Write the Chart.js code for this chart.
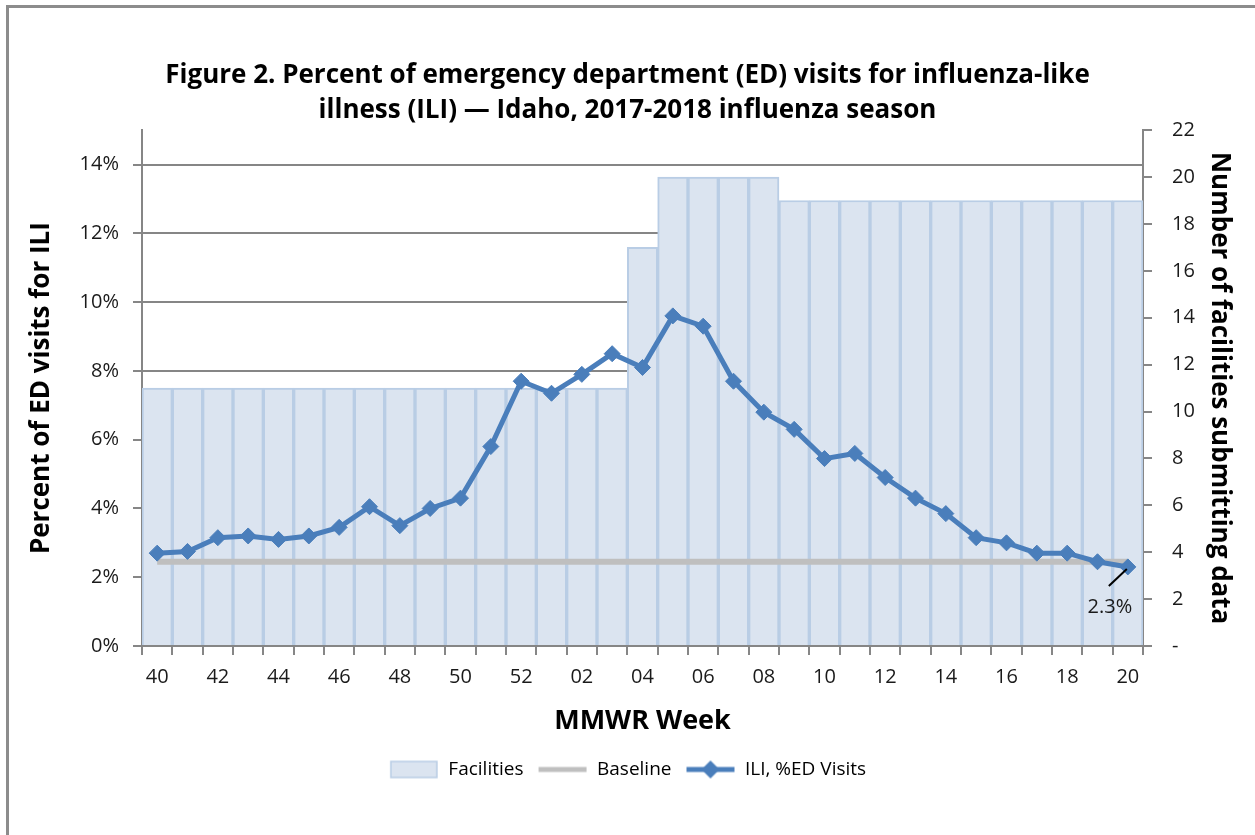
<!DOCTYPE html>
<html>
<head>
<meta charset="utf-8">
<script src="https://cdn.jsdelivr.net/npm/chart.js@4.4.0/dist/chart.umd.min.js"></script>
<style>
  body { margin: 0; background: #fff; }
  #wrap { position: relative; width: 1255px; height: 835px; }
  canvas { position: absolute; left: 0; top: 0; }
</style>
</head>
<body>
<div id="wrap"><canvas id="ili" width="1255" height="835"></canvas></div>
<script>
// MMWR weeks, 2017-2018 season
var weeks = ['40','41','42','43','44','45','46','47','48','49','50','51','52',
             '01','02','03','04','05','06','07','08','09','10','11','12','13','14','15','16','17','18','19','20'];
// number of facilities submitting data
var facilities = [11,11,11,11,11,11,11,11,11,11,11,11,11,
                  11,11,11,17,20,20,20,20,19,19,19,19,19,19,19,19,19,19,19,19];
// ILI, % of ED visits
var iliPct = [2.7,2.75,3.15,3.2,3.1,3.2,3.45,4.05,3.5,4.0,4.3,5.8,7.7,
              7.35,7.9,8.5,8.1,9.6,9.3,7.7,6.8,6.3,5.45,5.6,4.9,4.3,3.85,3.15,3.0,2.7,2.7,2.45,2.3];
// baseline
var baseline = [2.45,2.45,2.45,2.45,2.45,2.45,2.45,2.45,2.45,2.45,2.45,2.45,2.45,
                2.45,2.45,2.45,2.45,2.45,2.45,2.45,2.45,2.45,2.45,2.45,2.45,2.45,2.45,2.45,2.45,2.45,2.45,2.45,2.45];
var leftTicks = [0,2,4,6,8,10,12,14];
var rightTicks = [0,2,4,6,8,10,12,14,16,18,20,22];

var barFill = '#dbe4f0';
var barEdge = '#b9cde5';
var lineBlue = '#4a7ebb';
var baseGray = '#bfbfbf';
var axisGray = '#868686';
var txt = '#1a1a1a';
var fontFam = "'Open Sans', 'Noto Sans', sans-serif";

// legend symbols
function legendSym(kind) {
    var c = document.createElement('canvas');
    c.width = 50; c.height = 20;
    var g = c.getContext('2d');
    if (kind === 'bar') {
        g.fillStyle = barFill; g.fillRect(2, 2, 46, 16);
        g.strokeStyle = barEdge; g.lineWidth = 1.5; g.strokeRect(2, 2, 46, 16);
    } else if (kind === 'base') {
        g.strokeStyle = baseGray; g.lineWidth = 5;
        g.beginPath(); g.moveTo(1, 10); g.lineTo(49, 10); g.stroke();
    } else {
        g.strokeStyle = lineBlue; g.lineWidth = 5;
        g.beginPath(); g.moveTo(1, 10); g.lineTo(49, 10); g.stroke();
        g.fillStyle = lineBlue;
        g.beginPath(); g.moveTo(25, 1); g.lineTo(34, 10); g.lineTo(25, 19); g.lineTo(16, 10); g.closePath(); g.fill();
    }
    return c;
}

var frame = {
    id: 'frame',
    beforeDraw: function (chart) {
        var ctx = chart.ctx;
        ctx.save();
        ctx.fillStyle = '#fff';
        ctx.fillRect(0, 0, chart.width, chart.height);
        ctx.strokeStyle = '#8c8c8c';
        ctx.lineWidth = 3;
        ctx.beginPath();
        ctx.moveTo(7.5, chart.height);
        ctx.lineTo(7.5, 6.5);
        ctx.lineTo(chart.width, 6.5);
        ctx.stroke();
        ctx.restore();
    }
};

// label on last ILI point
var lastLabel = {
    id: 'lastLabel',
    afterDatasetsDraw: function (chart) {
        var meta = chart.getDatasetMeta(2);
        var i = iliPct.length - 1;
        var pt = meta.data[i];
        var ctx = chart.ctx;
        ctx.save();
        ctx.strokeStyle = '#000';
        ctx.lineWidth = 2;
        ctx.beginPath();
        ctx.moveTo(pt.x - 1, pt.y + 2);
        ctx.lineTo(pt.x - 19, pt.y + 19);
        ctx.stroke();
        ctx.fillStyle = txt;
        ctx.font = '20px ' + fontFam;
        ctx.textAlign = 'center';
        ctx.textBaseline = 'middle';
        ctx.fillText(iliPct[i].toFixed(1) + '%', pt.x - 18, pt.y + 40);
        ctx.restore();
    }
};

new Chart(document.getElementById('ili'), {
    data: {
        labels: weeks,
        datasets: [
            {
                type: 'bar',
                label: 'Facilities',
                data: facilities,
                yAxisID: 'y2',
                backgroundColor: barFill,
                borderColor: barEdge,
                borderWidth: 2,
                barPercentage: 1,
                categoryPercentage: 1,
                order: 3
            },
            {
                type: 'line',
                label: 'Baseline',
                data: baseline,
                yAxisID: 'y',
                borderColor: baseGray,
                borderWidth: 6,
                pointRadius: 0,
                order: 2
            },
            {
                type: 'line',
                label: 'ILI, %ED Visits',
                data: iliPct,
                yAxisID: 'y',
                borderColor: lineBlue,
                backgroundColor: lineBlue,
                borderWidth: 5,
                pointStyle: 'rectRot',
                pointRadius: 8,
                pointBorderWidth: 1,
                order: 1
            }
        ]
    },
    options: {
        responsive: false,
        animation: false,
        layout: { padding: { top: 58, left: 20, right: 20, bottom: 46 } },
        plugins: {
            tooltip: { enabled: false },
            title: {
                display: true,
                text: ['Figure 2. Percent of emergency department (ED) visits for influenza-like',
                       'illness (ILI) \u2014 Idaho, 2017-2018 influenza season'],
                color: '#000',
                font: { family: fontFam, size: 26, weight: 'bold', lineHeight: 1.35 },
                padding: { top: 0, bottom: 2 }
            },
            legend: {
                position: 'bottom',
                labels: {
                    usePointStyle: true,
                    pointStyleWidth: 50,
                    boxHeight: 18,
                    padding: 14,
                    color: txt,
                    font: { family: fontFam, size: 19 },
                    generateLabels: function () {
                        return [
                            { text: 'Facilities', pointStyle: legendSym('bar'), fillStyle: barFill, strokeStyle: barEdge, lineWidth: 0, hidden: false, datasetIndex: 0 },
                            { text: 'Baseline', pointStyle: legendSym('base'), fillStyle: baseGray, strokeStyle: baseGray, lineWidth: 0, hidden: false, datasetIndex: 1 },
                            { text: 'ILI, %ED Visits', pointStyle: legendSym('ili'), fillStyle: lineBlue, strokeStyle: lineBlue, lineWidth: 0, hidden: false, datasetIndex: 2 }
                        ];
                    }
                }
            }
        },
        scales: {
            x: {
                offset: true,
                grid: { offset: true, drawOnChartArea: false, color: axisGray, lineWidth: 2, tickLength: 9 },
                border: { color: axisGray, width: 2 },
                ticks: {
                    autoSkip: false,
                    maxRotation: 0,
                    padding: 10,
                    color: txt,
                    font: { family: fontFam, size: 20 },
                    callback: function (v, i) { return i % 2 === 0 ? weeks[i] : ''; }
                },
                title: {
                    display: true, text: 'MMWR Week', color: '#000',
                    font: { family: fontFam, size: 27, weight: 'bold' },
                    padding: { top: 0, bottom: 8 }
                },
                afterFit: function (s) { s.height = 100; }
            },
            y: {
                position: 'left',
                min: 0,
                max: 15,
                afterBuildTicks: function (s) { s.ticks = leftTicks.map(function (v) { return { value: v }; }); },
                grid: { color: axisGray, lineWidth: 2, tickLength: 9 },
                border: { color: axisGray, width: 2 },
                ticks: {
                    padding: 14,
                    color: txt,
                    font: { family: fontFam, size: 20 },
                    callback: function (v) { return v + '%'; }
                },
                title: {
                    display: true, text: 'Percent of ED visits for ILI', color: '#000',
                    font: { family: fontFam, size: 26, weight: 'bold' },
                    padding: { top: 6, bottom: 0 }
                },
                afterFit: function (s) { s.width = 122; }
            },
            y2: {
                position: 'right',
                min: 0,
                max: 22,
                afterBuildTicks: function (s) { s.ticks = rightTicks.map(function (v) { return { value: v }; }); },
                grid: { drawOnChartArea: false, color: axisGray, lineWidth: 2, tickLength: 9 },
                border: { color: axisGray, width: 2 },
                ticks: {
                    padding: 20,
                    color: txt,
                    font: { family: fontFam, size: 20 },
                    callback: function (v) { return v === 0 ? '-' : v; }
                },
                title: {
                    display: true, text: 'Number of facilities submitting data', color: '#000',
                    font: { family: fontFam, size: 26, weight: 'bold' },
                    padding: { top: 0, bottom: 2 }
                },
                afterFit: function (s) { s.width = 92; }
            }
        }
    },
    plugins: [frame, lastLabel]
});
</script>
</body>
</html>
